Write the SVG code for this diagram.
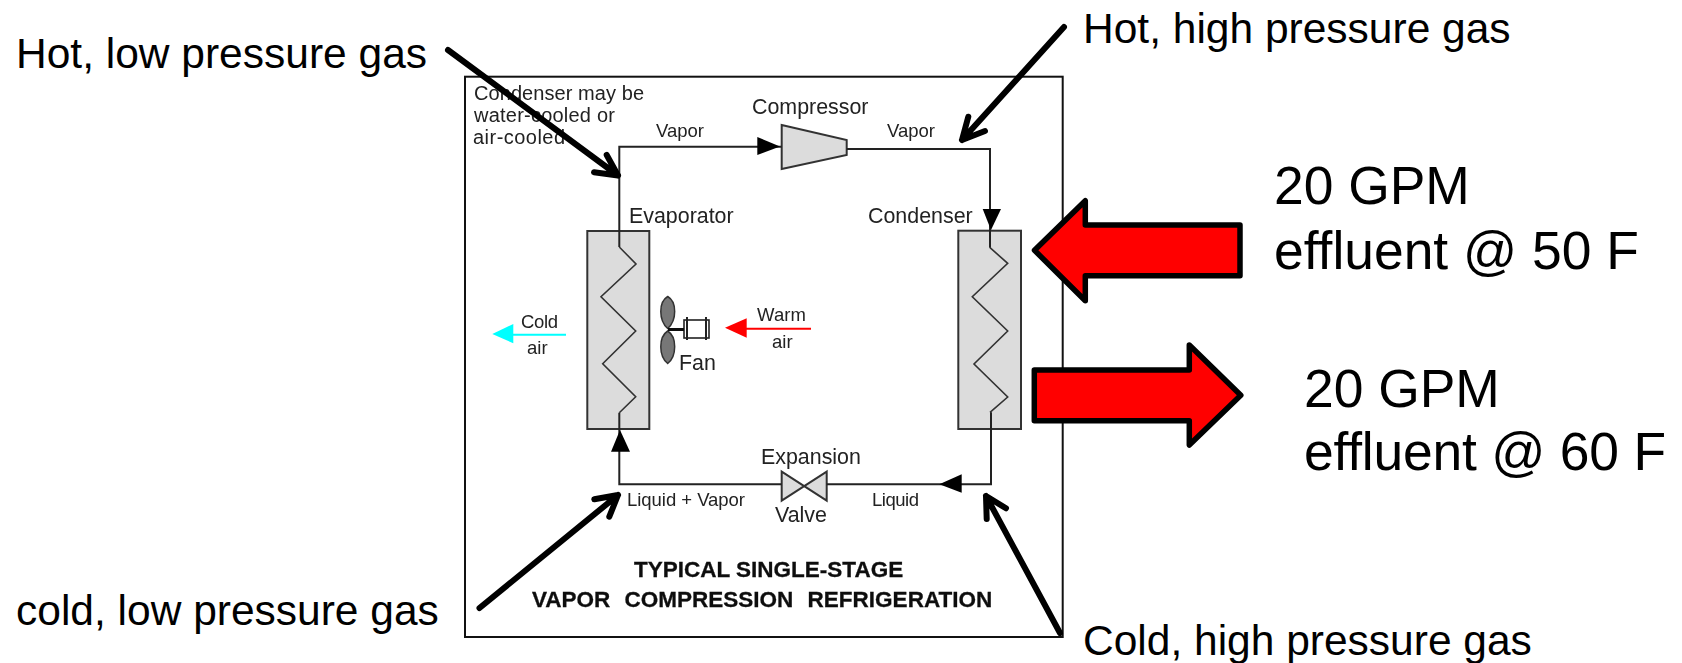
<svg xmlns="http://www.w3.org/2000/svg" width="1682" height="663" viewBox="0 0 1682 663">
<defs><filter id="soft" x="-5%" y="-5%" width="110%" height="110%"><feGaussianBlur stdDeviation="0.45"/></filter></defs>
<style>
text{font-family:"Liberation Sans",Arial,sans-serif;fill:#000}
.big{font-size:42.5px}
.huge{font-size:53.4px}
.sm{font-size:21.4px;fill:#222}
.xs{font-size:18.5px;fill:#222}
.note{font-size:20px;fill:#222}
.ttl{font-size:22.5px;font-weight:bold;fill:#111;stroke:#111;stroke-width:.3}
.ln{fill:none;stroke:#222;stroke-width:2}
.hx{fill:#dcdcdc;stroke:#333;stroke-width:2}
.zz{fill:none;stroke:#333;stroke-width:1.6}
.hd{fill:#000;stroke:none}
.call{fill:none;stroke:#000;stroke-width:6;stroke-linecap:round;stroke-linejoin:round}
.flow{fill:#f00;stroke:#000;stroke-width:5.5;stroke-linejoin:round}
</style>
<rect id="frame" x="465" y="76.7" width="597.7" height="560.3" fill="#fff" stroke="#111" stroke-width="2"/>
<g id="evaporator" filter="url(#soft)"><rect class="hx" x="587.3" y="231" width="62" height="198"/><polyline class="zz" points="619.3,247 636,264 601,296.7 635.7,331 602.7,363.7 635.7,396.7 619.3,412.7"/><text class="sm" x="629" y="223">Evaporator</text></g>
<g id="condenser" filter="url(#soft)"><rect class="hx" x="958.3" y="230.7" width="62.7" height="198.3"/><polyline class="zz" points="990,247.7 1007.7,263.3 972.3,296.7 1007.7,331 974,364 1007.7,397 990,412.3"/><text class="sm" x="868" y="223">Condenser</text></g>
<g id="compressor" filter="url(#soft)"><polygon class="hx" points="781.7,125 846.7,140 846.7,155 781.7,169"/><text class="sm" x="752" y="114">Compressor</text></g>
<g id="valve" filter="url(#soft)"><polygon class="hx" points="781.7,471.7 781.7,500.7 826.7,471.7 826.7,500.7"/><text class="sm" x="761" y="464">Expansion</text><text class="sm" x="775" y="522">Valve</text></g>
<g id="fan" filter="url(#soft)"><path d="M667.7 296.5C677 302 677 320 667.7 328.5C658.5 320 658.5 302 667.7 296.5Z" fill="#777" stroke="#333" stroke-width="1.5"/><path d="M667.7 331C677 337 677 356 667.7 363.5C658.5 356 658.5 337 667.7 331Z" fill="#777" stroke="#333" stroke-width="1.5"/><rect x="684" y="320" width="25" height="18" fill="#fff" stroke="#222" stroke-width="1.6"/><path d="M687 317V340M706 317V340" class="ln"/><path d="M668 329.5H684" stroke="#111" stroke-width="3"/><text class="sm" x="679" y="370">Fan</text></g>
<g id="connectors">
<path class="ln" d="M619.3 412.7V484.3H781.7M826.7 484.3H991V412.3"/>
<path class="ln" d="M619.3 247V146.7H781.7"/>
<path class="ln" d="M846.7 149H990V247.7"/>
<polygon class="hd" points="757.3,137 757.3,155 780,146.5"/>
<polygon class="hd" points="982.7,209 1001,209 991,230"/>
<polygon class="hd" points="611,451.7 630,451.7 620,430"/>
<polygon class="hd" points="939.3,484.3 961.7,474.3 961.7,492.7"/>
<path d="M513 334.7H566" stroke="#0ff" stroke-width="2"/><polygon points="492.3,334 513.3,324 513.3,343.3" fill="#0ff"/>
<path d="M746 328.7H811" stroke="#f00" stroke-width="2"/><polygon points="725,327.7 746.7,318.3 746.7,337.7" fill="#f00"/>
</g>
<g id="labels">
<g filter="url(#soft)">
<text class="note" x="474" y="100" textLength="170">Condenser may be</text>
<text class="note" x="474" y="122" textLength="141">water-cooled or</text>
<text class="note" x="473" y="144" textLength="92">air-cooled</text>
<text class="xs" x="656" y="137" textLength="48">Vapor</text>
<text class="xs" x="887" y="137" textLength="48">Vapor</text>
<text class="xs" x="627" y="506" textLength="118">Liquid + Vapor</text>
<text class="xs" x="872" y="506" textLength="47">Liquid</text>
<text class="xs" x="521" y="328" textLength="37">Cold</text>
<text class="xs" x="527" y="354">air</text>
<text class="xs" x="757" y="321" textLength="49">Warm</text>
<text class="xs" x="772" y="348">air</text>
<text class="ttl" x="634" y="577">TYPICAL SINGLE-STAGE</text>
<text class="ttl" x="532" y="607" word-spacing="8">VAPOR COMPRESSION REFRIGERATION</text>
</g>
</g>
<g id="callouts">
<path class="call" d="M448 50L618 175.5M606.7 155L618 175.5L594 172.3"/>
<path class="call" d="M1064 27L962 140M968.3 116.7L962 140L985 131"/>
<path class="call" d="M479.5 608L618 495M594.3 499.3L618 495L609.3 516.7"/>
<path class="call" d="M1060 633L986 496M986.7 519L986 496L1006 508.3"/>
<polygon class="flow" points="1034.5,250.3 1085.3,200.7 1085.3,225 1240,225 1240,275.7 1085.3,275.7 1085.3,300.7"/>
<polygon class="flow" points="1034.3,370 1189.3,370 1189.3,345 1240.8,395.3 1189.3,445 1189.3,420.7 1034.3,420.7"/>
<text class="big" x="16" y="68">Hot, low pressure gas</text>
<text class="big" x="1083" y="43">Hot, high pressure gas</text>
<text class="big" x="16" y="625">cold, low pressure gas</text>
<text class="big" x="1083" y="655">Cold, high pressure gas</text>
<text class="huge" x="1274" y="204">20 GPM</text>
<text class="huge" x="1274" y="269">effluent @ 50 F</text>
<text class="huge" x="1304" y="407">20 GPM</text>
<text class="huge" x="1304" y="470" textLength="362">effluent @ 60 F</text>
</g>
</svg>
